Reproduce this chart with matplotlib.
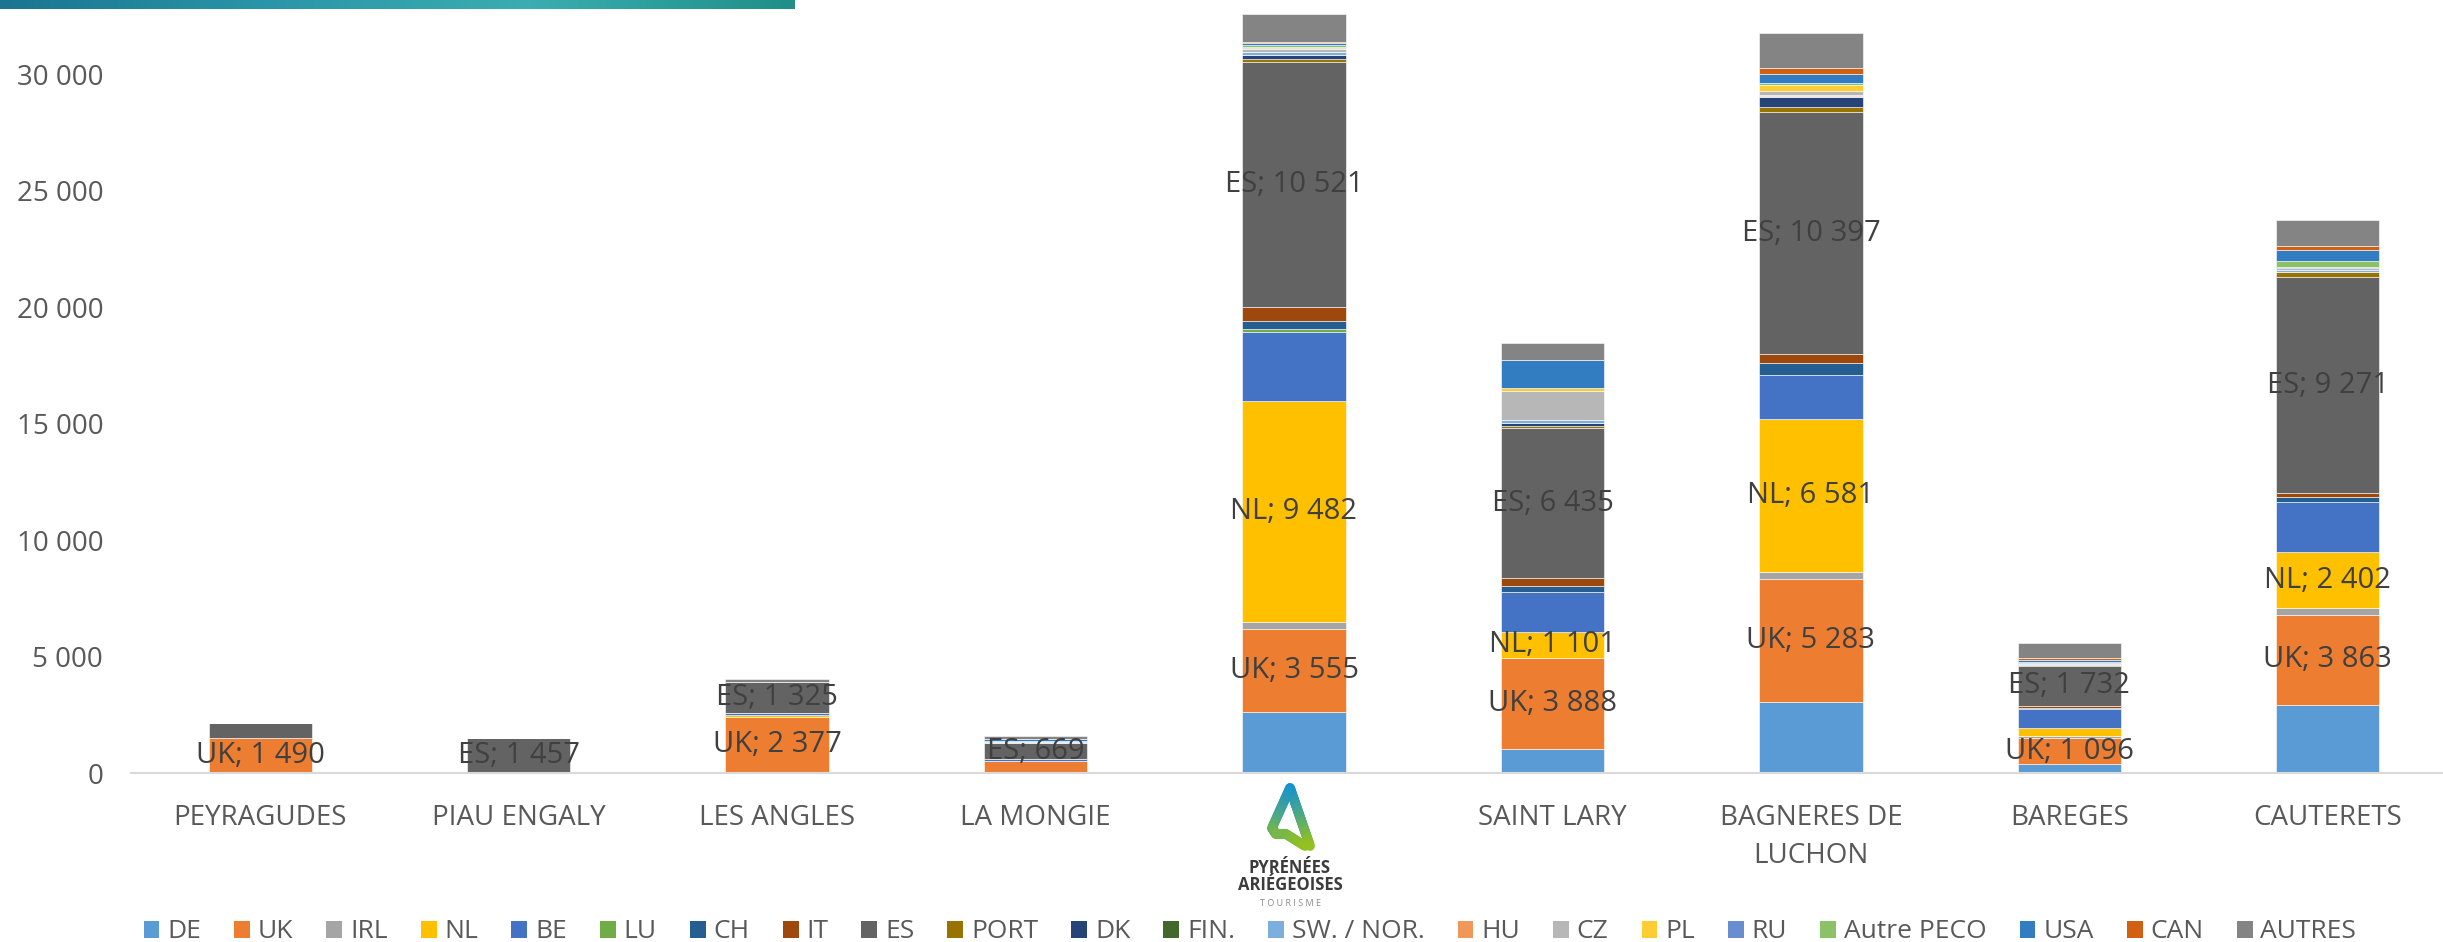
import numpy as np
import matplotlib.pyplot as plt
from matplotlib.collections import LineCollection
from matplotlib.colors import LinearSegmentedColormap
from matplotlib.patches import Patch

plt.rcParams['font.family'] = ['Open Sans', 'DejaVu Sans']

stations = ["PEYRAGUDES", "PIAU ENGALY", "LES ANGLES", "LA MONGIE", "",
            "SAINT LARY", "BAGNERES DE\nLUCHON", "BAREGES", "CAUTERETS"]

pays = ["DE", "UK", "IRL", "NL", "BE", "LU", "CH", "IT", "ES", "PORT", "DK",
        "FIN.", "SW. / NOR.", "HU", "CZ", "PL", "RU", "Autre PECO", "USA",
        "CAN", "AUTRES"]

DE = [10, 10, 15, 30, 2630, 1045, 3060, 386, 2926]
UK = [1490, 15, 2377, 500, 3555, 3888, 5283, 1096, 3863]
IRL = [0, 0, 0, 0, 290, 20, 286, 86, 296]
NL = [0, 0, 90, 0, 9482, 1101, 6581, 372, 2402]
BE = [0, 0, 100, 50, 2970, 1718, 1900, 830, 2154]
LU = [0, 0, 0, 0, 150, 20, 0, 0, 0]
CH = [0, 0, 0, 0, 350, 258, 480, 20, 197]
IT = [0, 0, 0, 30, 600, 315, 400, 86, 181]
ES = [650, 1457, 1325, 669, 10521, 6435, 10397, 1732, 9271]
PORT = [0, 0, 0, 0, 100, 115, 200, 30, 214]
DK = [0, 0, 0, 0, 190, 115, 458, 0, 0]
FIN = [0, 0, 0, 0, 20, 0, 0, 0, 0]
SWNOR = [0, 0, 0, 40, 100, 143, 30, 40, 80]
HU = [0, 0, 0, 0, 30, 0, 50, 0, 0]
CZ = [0, 0, 0, 60, 115, 1230, 150, 50, 100]
PL = [0, 0, 0, 0, 30, 115, 258, 0, 0]
RU = [0, 0, 0, 0, 60, 20, 0, 60, 60]
PECO = [0, 0, 0, 0, 70, 0, 115, 0, 230]
USA = [0, 0, 0, 90, 70, 1190, 358, 70, 510]
CAN = [0, 0, 0, 0, 70, 0, 286, 70, 148]
AUTRES = [0, 20, 110, 130, 1200, 750, 1503, 643, 1118]

series = [DE, UK, IRL, NL, BE, LU, CH, IT, ES, PORT, DK, FIN, SWNOR, HU, CZ,
          PL, RU, PECO, USA, CAN, AUTRES]

couleurs = ["#5B9BD5", "#ED7D31", "#A5A5A5", "#FFC000", "#4472C4", "#70AD47",
            "#255E91", "#9E480E", "#636363", "#997300", "#264478", "#43682B",
            "#7CAFDD", "#F1975A", "#B7B7B7", "#FFCD33", "#698ED0", "#8CC168",
            "#327DC2", "#D26012", "#848484"]

# etiquettes affichees (serie -> stations)
etiquettes = {"UK": [0, 2, 4, 5, 6, 7, 8],
              "NL": [4, 5, 6, 8],
              "ES": [1, 2, 3, 4, 5, 6, 7, 8]}

W, H = 2443, 942
fig = plt.figure(figsize=(W / 100, H / 100), dpi=100)
ax = fig.add_axes([131 / W, 169 / H, 2326 / W, 773 / H])

x = np.arange(len(stations))
bas = np.zeros(len(stations))
for nom, vals, c in zip(pays, series, couleurs):
    v = np.array(vals, dtype=float)
    ax.bar(x, v, 0.4, bottom=bas, color=c, edgecolor="white", linewidth=0.4)
    if nom in etiquettes:
        for i in etiquettes[nom]:
            txt = "{}; {:,}".format(nom, vals[i]).replace(",", " ")
            ax.text(x[i], bas[i] + v[i] / 2, txt, ha="center", va="center",
                    fontsize=21, color="#404040")
    bas += v

ax.set_xlim(-0.5, len(stations) - 0.5)
ax.set_ylim(0, 33200)
ax.set_yticks(np.arange(0, 30001, 5000))
ax.set_yticklabels(["{:,}".format(t).replace(",", " ") for t in range(0, 30001, 5000)])
ax.set_xticks(x)
ax.set_xticklabels(stations, linespacing=1.5)
ax.tick_params(axis="both", length=0, labelsize=20, labelcolor="#595959")
ax.tick_params(axis="x", pad=22)
ax.tick_params(axis="y", pad=20)
for s in ["top", "right", "left"]:
    ax.spines[s].set_visible(False)
ax.spines["bottom"].set_color("#D9D9D9")
ax.spines["bottom"].set_linewidth(1.5)

# legende
poignees = [Patch(facecolor=c, label=n) for n, c in zip(pays, couleurs)]
fig.legend(handles=poignees, loc="center", bbox_to_anchor=(1250 / W, 1 - 932 / H),
           ncol=len(pays), frameon=False, fontsize=19, handlelength=0.6,
           handleheight=0.6, handletextpad=0.3, columnspacing=1.25,
           labelcolor="#595959")

# bandeau en haut a gauche
bandeau = fig.add_axes([0, 1 - 9 / H, 795 / W, 9 / H])
grad = np.linspace(0, 1, 256).reshape(1, -1)
cm = LinearSegmentedColormap.from_list("b", ["#1a7590", "#2a95a8", "#3aaeb0", "#1f8f88"])
bandeau.imshow(grad, aspect="auto", cmap=cm)
bandeau.axis("off")

# logo Pyrenees Ariegeoises
logo = fig.add_axes([0, 0, 1, 1])
logo.set_xlim(0, W)
logo.set_ylim(H, 0)
logo.axis("off")
droite = np.array([[1290, 788], [1310, 846]])
gauche = np.array([[1290, 788], [1272, 828], [1276, 834], [1286, 834], [1305, 846]])
cmap_logo = LinearSegmentedColormap.from_list("l", ["#1592d0", "#4aa88a", "#95c11f"])
for chemin in [droite, gauche]:
    u = np.linspace(0, len(chemin) - 1, 60)
    xs = np.interp(u, np.arange(len(chemin)), chemin[:, 0])
    ys = np.interp(u, np.arange(len(chemin)), chemin[:, 1])
    segs = np.stack([np.column_stack([xs[:-1], ys[:-1]]),
                     np.column_stack([xs[1:], ys[1:]])], axis=1)
    cols = cmap_logo((ys[:-1] - 788) / (846 - 788))
    logo.add_collection(LineCollection(segs, colors=cols, linewidths=7, capstyle="round"))
logo.text(1290, 868, "PYRÉNÉES", ha="center", va="center", fontsize=12,
          fontweight="bold", color="#3c3c3c")
logo.text(1290, 885, "ARIÉGEOISES", ha="center", va="center", fontsize=12,
          fontweight="bold", color="#3c3c3c")
logo.text(1290, 903, "T O U R I S M E", ha="center", va="center", fontsize=6.5,
          color="#8a8a8a")

fig.savefig("out.png", dpi=100)
